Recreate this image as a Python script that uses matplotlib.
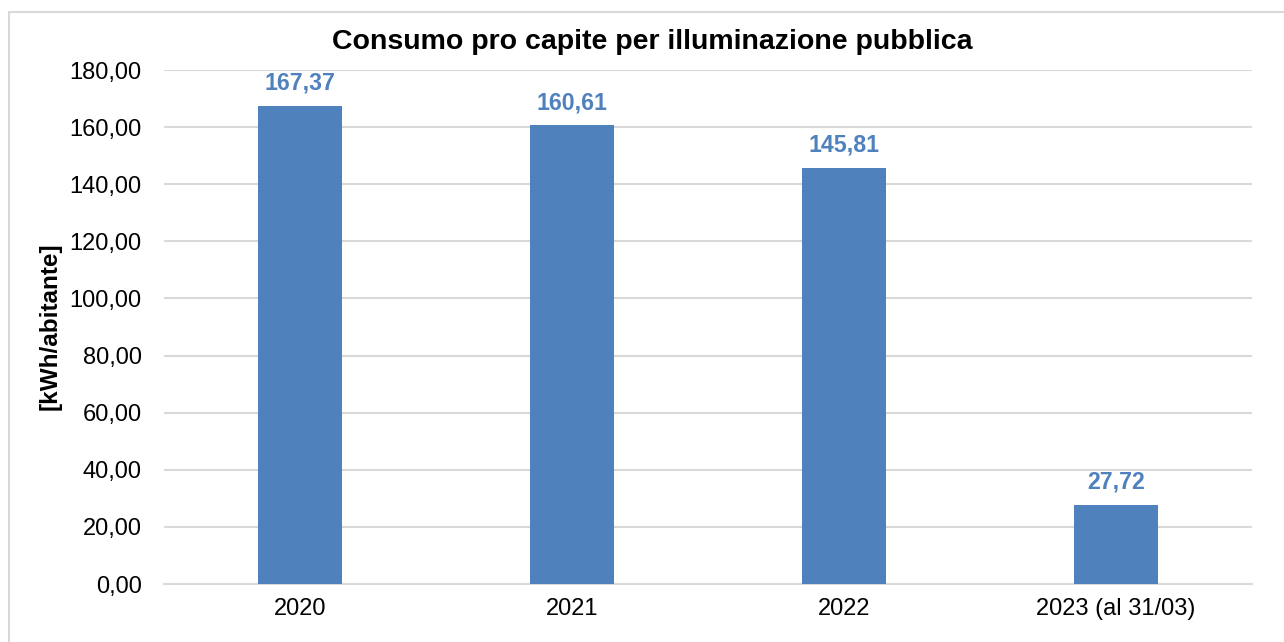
import matplotlib
matplotlib.use("Agg")
import matplotlib.pyplot as plt
from matplotlib.patches import Rectangle

categories = ["2020", "2021", "2022", "2023 (al 31/03)"]
values = [167.37, 160.61, 145.81, 27.72]
yticks = [0, 20, 40, 60, 80, 100, 120, 140, 160, 180]

plt.rcParams['font.family'] = ['Liberation Sans', 'DejaVu Sans']

W, H = 1284, 642
fig = plt.figure(figsize=(W/100, H/100), dpi=100)
ax = fig.add_axes([164/W, 1-584/H, (1252-164)/W, (584-70)/H])

bar_color = "#4F81BD"
x = list(range(len(categories)))
ax.bar(x, values, width=0.31, color=bar_color, zorder=3)
ax.set_xlim(-0.5, len(categories)-0.5)
ax.set_ylim(0, 180)
ax.set_yticks(yticks)
ax.set_yticklabels([f"{v:.2f}".replace(".", ",") for v in yticks], fontsize=17)
ax.set_xticks(x)
ax.set_xticklabels(categories, fontsize=17)
ax.tick_params(axis='y', length=0, pad=16)
ax.tick_params(axis='x', length=0, pad=10)
ax.grid(axis='y', color="#D9D9D9", linewidth=1.5, zorder=0)
for s in ["top", "right", "left"]:
    ax.spines[s].set_visible(False)
ax.spines["bottom"].set_color("#D9D9D9")
ax.spines["bottom"].set_linewidth(1.5)

for xi, v in zip(x, values):
    ax.annotate(f"{v:.2f}".replace(".", ","), (xi, v), xytext=(0, 8),
                textcoords="offset points", ha="center", va="bottom",
                fontsize=16.7, fontweight="bold", color=bar_color)

fig.text(50/W, 1-326.5/H, "[kWh/abitante]", rotation=90, ha="center", va="center",
         fontsize=17.5, fontweight="bold")

fig.text(652/W, 1-42/H, "Consumo pro capite per illuminazione pubblica",
         ha="center", va="center", fontsize=20.5, fontweight="bold")

fig.patches.append(Rectangle((9/W, -0.1), 1.2, 1-12/H+0.1, transform=fig.transFigure,
                             fill=False, edgecolor="#D9D9D9", linewidth=1.5))

fig.savefig("out.png", dpi=100)
